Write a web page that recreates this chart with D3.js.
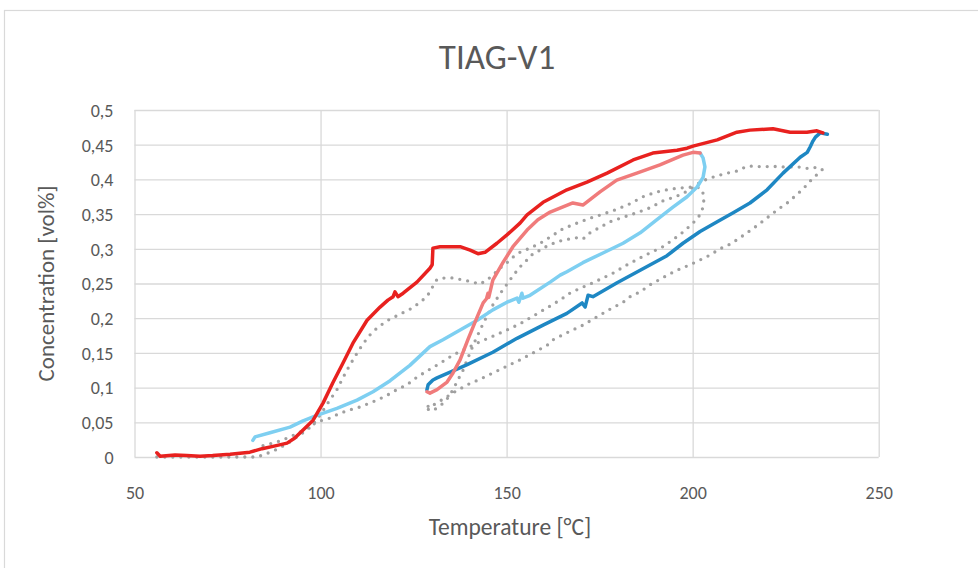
<!DOCTYPE html>
<html>
<head>
<meta charset="utf-8">
<script src="https://cdn.jsdelivr.net/npm/d3@7"></script>
<style>
  html, body { margin: 0; padding: 0; background: #fff; }
  svg { display: block; }
  text { font-family: Calibri, Carlito, Lato, "Open Sans", sans-serif; fill: #595959; }
</style>
</head>
<body>
<div id="chart"></div>
<script>
// ---------- DATA ----------
const chartTitle = "TIAG-V1";
const xAxisTitle = "Temperature [°C]";
const yAxisTitle = "Concentration [vol%]";

const xTicks = [50, 100, 150, 200, 250];
const xTickLabels = ["50", "100", "150", "200", "250"];
const yTicks = [0, 0.05, 0.1, 0.15, 0.2, 0.25, 0.3, 0.35, 0.4, 0.45, 0.5];
const yTickLabels = ["0", "0,05", "0,1", "0,15", "0,2", "0,25", "0,3", "0,35", "0,4", "0,45", "0,5"];

// [temperature °C, concentration vol%]
const grayLoopA = [
  [56.0,0.000],[67.6,0.000],[78.4,0.000],[82.9,0.000],[85.1,0.004],[87.8,0.010],[91.0,0.019],[93.7,0.029],
  [95.8,0.037],[97.7,0.045],[99.3,0.056],[100.9,0.069],[102.5,0.082],[104.4,0.097],[106.0,0.114],[107.6,0.130],
  [109.5,0.147],[111.4,0.163],[113.3,0.176],[115.4,0.187],[118.1,0.197],[121.4,0.206],[124.8,0.215],[128.6,0.231],
  [130.2,0.246],[131.3,0.256],[133.4,0.258],[135.6,0.258],[138.3,0.255],[141.0,0.252],[142.8,0.249],[144.7,0.255],
  [146.3,0.262],[148.2,0.272],[150.1,0.280],[151.7,0.288],[153.6,0.295],[156.3,0.301],[159.0,0.308],[161.7,0.317],
  [165.2,0.329],[168.9,0.337],[172.4,0.344],[175.9,0.350],[179.7,0.357],[183.2,0.365],[186.6,0.375],[190.4,0.382],
  [193.9,0.386],[197.4,0.388],[200.1,0.389],[202.0,0.388],[202.8,0.380],[203.0,0.370],[202.8,0.360],[202.0,0.349],
  [200.1,0.337],[197.4,0.324],[194.7,0.313],[192.0,0.303],[188.5,0.294],[185.9,0.287],[182.4,0.277],[178.6,0.265],
  [175.9,0.258],[173.2,0.251],[169.7,0.243],[167.0,0.236],[164.3,0.226],[160.9,0.215],[157.1,0.203],[153.6,0.192],
  [150.1,0.183],[146.3,0.174],[142.8,0.166],[139.4,0.157],[135.6,0.147],[132.1,0.135],[128.6,0.124],[125.9,0.115],
  [123.2,0.104],[120.5,0.097],[117.9,0.089],[115.2,0.082],[110.6,0.072],[107.9,0.068],[105.2,0.063],[102.5,0.056],
  [99.9,0.052],[97.2,0.045],[94.5,0.036],[91.8,0.029],[89.1,0.023],[86.4,0.019],[84.3,0.016]
];

const grayLoopB = [
  [128.9,0.073],[130.8,0.069],[132.6,0.076],[134.2,0.085],[135.6,0.097],[136.9,0.111],[138.3,0.125],[139.4,0.140],
  [140.7,0.157],[142.0,0.173],[143.4,0.189],[144.7,0.203],[146.3,0.219],[148.2,0.235],[150.1,0.249],[151.7,0.261],
  [153.6,0.274],[155.5,0.284],[157.1,0.293],[159.0,0.298],[160.9,0.304],[163.5,0.310],[165.7,0.313],[168.9,0.316],
  [170.5,0.314],[172.4,0.323],[175.1,0.331],[177.8,0.339],[180.5,0.344],[185.0,0.352],[188.5,0.359],[192.0,0.369],
  [195.8,0.376],[199.3,0.385],[202.0,0.396],[204.1,0.401],[206.5,0.405],[209.2,0.409],[211.9,0.412],[214.6,0.419],
  [216.7,0.419],[218.9,0.418],[221.3,0.419],[223.5,0.418],[226.2,0.418],[228.3,0.418],[230.7,0.416],[232.3,0.416],
  [233.4,0.418],[234.8,0.414],[233.7,0.408],[232.3,0.402],[230.7,0.392],[228.8,0.382],[226.9,0.373],[225.4,0.366],
  [223.5,0.359],[221.3,0.350],[218.9,0.340],[216.7,0.331],[214.6,0.323],[211.9,0.313],[209.5,0.305],[207.3,0.300],
  [204.7,0.291],[202.0,0.284],[199.3,0.277],[196.6,0.271],[193.9,0.264],[191.2,0.256],[188.5,0.248],[185.9,0.238],
  [183.2,0.231],[181.3,0.223],[177.8,0.213],[174.3,0.202],[170.5,0.190],[166.2,0.179],[162.5,0.169],[160.9,0.161],
  [157.1,0.150],[153.6,0.140],[150.1,0.131],[146.3,0.121],[142.8,0.112],[139.4,0.104],[136.1,0.094],[133.4,0.085],
  [131.3,0.078],[129.4,0.072],[128.9,0.068]
];

const lightBlueSeries = [
  [202.0,0.438],[202.8,0.431],[203.3,0.418],[202.8,0.403],[201.2,0.389],[198.5,0.375],[194.7,0.360],[190.4,0.342],
  [185.9,0.323],[181.3,0.308],[175.9,0.294],[170.5,0.280],[166.2,0.267],[164.4,0.262],[161.7,0.252],[156.3,0.233],
  [154.4,0.229],[154.1,0.236],[153.3,0.223],[152.8,0.229],[150.1,0.223],[146.3,0.212],[142.1,0.197],[137.5,0.183],
  [132.9,0.169],[129.4,0.159],[124.0,0.132],[118.7,0.110],[114.1,0.094],[109.8,0.082],[104.4,0.070],[99.0,0.060],
  [95.3,0.052],[91.8,0.043],[86.4,0.035],[82.4,0.029],[81.8,0.024]
];

const darkBlueSeries = [
  [128.6,0.097],[128.9,0.104],[130.2,0.111],[131.3,0.114],[135.6,0.124],[139.4,0.133],[146.3,0.151],[152.8,0.171],
  [159.8,0.190],[166.2,0.207],[170.3,0.222],[171.1,0.216],[171.9,0.233],[173.2,0.231],[179.7,0.251],[185.9,0.269],
  [193.1,0.290],[197.4,0.308],[202.0,0.325],[206.6,0.339],[210.9,0.352],[215.4,0.366],[220.0,0.385],[224.3,0.409],
  [228.9,0.432],[230.8,0.439],[231.6,0.447],[232.2,0.454],[233.0,0.461],[234.3,0.467],[236.2,0.465]
];

const salmonSeries = [
  [128.6,0.094],[129.4,0.092],[131.3,0.097],[134.0,0.108],[135.6,0.121],[137.5,0.140],[139.6,0.169],[142.1,0.202],
  [143.7,0.222],[144.6,0.228],[145.0,0.236],[145.2,0.230],[146.3,0.255],[149.0,0.280],[151.7,0.303],[155.5,0.327],
  [158.4,0.342],[161.7,0.353],[167.8,0.366],[170.5,0.363],[175.1,0.382],[179.6,0.399],[185.0,0.409],[191.2,0.421],
  [197.4,0.435],[200.1,0.439],[202.0,0.438]
];

const redSeries = [
  [56.0,0.006],[56.9,0.001],[60.9,0.003],[64.0,0.002],[67.6,0.001],[71.0,0.002],[75.7,0.004],[81.0,0.007],
  [84.3,0.012],[87.8,0.016],[91.0,0.020],[93.0,0.027],[95.3,0.039],[98.0,0.053],[100.7,0.078],[103.3,0.107],
  [106.0,0.135],[108.7,0.164],[112.5,0.197],[116.0,0.216],[118.1,0.226],[119.5,0.231],[120.0,0.238],[120.8,0.231],
  [122.2,0.236],[125.9,0.252],[129.4,0.272],[130.0,0.277],[130.2,0.301],[132.1,0.303],[137.5,0.303],[140.2,0.298],
  [142.3,0.293],[144.2,0.295],[147.4,0.308],[150.1,0.320],[153.6,0.337],[155.5,0.349],[159.8,0.367],[166.2,0.385],
  [171.6,0.396],[177.0,0.409],[184.0,0.428],[189.3,0.438],[195.8,0.442],[198.5,0.445],[200.1,0.448],[206.6,0.457],
  [211.9,0.468],[215.4,0.471],[221.6,0.473],[226.2,0.468],[230.7,0.468],[233.4,0.470],[235.0,0.467]
];

// ---------- DRAW ----------
const W = 978, H = 568;
const plot = { left: 134.5, right: 878.7, top: 110, bottom: 457 };

const svg = d3.select("#chart").append("svg").attr("width", W).attr("height", H);

svg.append("rect").attr("x", 4.5).attr("y", 10.5).attr("width", W + 10).attr("height", H + 10)
  .attr("fill", "#fff").attr("stroke", "#D9D9D9").attr("stroke-width", 1.2);

const x = d3.scaleLinear().domain([50, 250]).range([plot.left, plot.right]);
const y = d3.scaleLinear().domain([0, 0.5]).range([plot.bottom, plot.top]);

// gridlines via axes
const yGrid = d3.axisLeft(y).tickValues(yTicks).tickSize(-(plot.right - plot.left)).tickFormat("");
svg.append("g").attr("transform", `translate(${plot.left},0)`).call(yGrid)
  .call(g => g.select(".domain").remove())
  .call(g => g.selectAll("line").attr("stroke", "#D9D9D9").attr("stroke-width", 1.3));

const xGrid = d3.axisBottom(x).tickValues(xTicks).tickSize(-(plot.bottom - plot.top)).tickFormat("");
svg.append("g").attr("transform", `translate(0,${plot.bottom})`).call(xGrid)
  .call(g => g.select(".domain").remove())
  .call(g => g.selectAll("line").attr("stroke", "#D9D9D9").attr("stroke-width", 1.3));

// tick labels
const xAxis = d3.axisBottom(x).tickValues(xTicks).tickSize(0).tickPadding(0)
  .tickFormat((d, i) => xTickLabels[i]);
svg.append("g").attr("transform", `translate(0,${plot.bottom})`).call(xAxis)
  .call(g => g.select(".domain").remove())
  .call(g => g.selectAll("text").attr("dy", null).attr("y", 42)
    .style("font-size", "18px").attr("fill", "#595959"));

const yAxis = d3.axisLeft(y).tickValues(yTicks).tickSize(0).tickPadding(0)
  .tickFormat((d, i) => yTickLabels[i]);
svg.append("g").attr("transform", `translate(${plot.left - 21},0)`).call(yAxis)
  .call(g => g.select(".domain").remove())
  .call(g => g.selectAll("text").attr("dy", "0.35em")
    .style("font-size", "18px").attr("fill", "#595959"));

// series
const line = d3.line().x(d => x(d[0])).y(d => y(d[1])).curve(d3.curveLinear);

const dotted = [grayLoopA, grayLoopB];
svg.append("g").selectAll("path").data(dotted).join("path")
  .attr("d", line).attr("fill", "none").attr("stroke", "#A0A0A0")
  .attr("stroke-width", 3.3).attr("stroke-linecap", "round").attr("stroke-dasharray", "0 8");

const solid = [
  { data: lightBlueSeries, color: "#7ECFF1" },
  { data: darkBlueSeries, color: "#1E87C3" },
  { data: salmonSeries, color: "#F07B7B" },
  { data: redSeries, color: "#E8211F" }
];
svg.append("g").selectAll("path").data(solid).join("path")
  .attr("d", d => line(d.data)).attr("fill", "none").attr("stroke", d => d.color)
  .attr("stroke-width", 3.5).attr("stroke-linejoin", "round").attr("stroke-linecap", "round");

// titles
svg.append("text").attr("x", 497).attr("y", 69).attr("text-anchor", "middle")
  .style("font-size", "35px").text(chartTitle);

svg.append("text").attr("x", 510).attr("y", 535).attr("text-anchor", "middle")
  .style("font-size", "23.5px").text(xAxisTitle);

svg.append("text").attr("transform", `translate(54,${(plot.top + plot.bottom) / 2}) rotate(-90)`)
  .attr("text-anchor", "middle").style("font-size", "23px").text(yAxisTitle);
</script>
</body>
</html>
